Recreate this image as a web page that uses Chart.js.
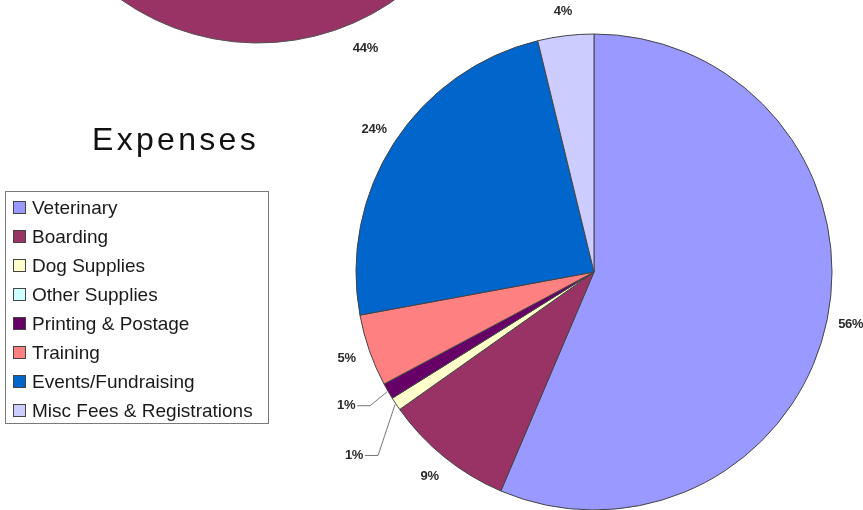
<!DOCTYPE html>
<html lang="en">
<head>
    <meta charset="UTF-8">
    <title>Expenses</title>
    <script src="https://cdn.jsdelivr.net/npm/chart.js"></script>
</head>
<style>
    body {
        margin: 0;
        width: 863px;
        height: 510px;
        overflow: hidden;
        background: #ffffff;
        position: relative;
        font-family: "Liberation Sans", Arial, sans-serif;
    }
    canvas {
        position: absolute;
    }
    .title {
        position: absolute;
        left: 92px;
        top: 123px;
        font-size: 32px;
        line-height: 32px;
        letter-spacing: 3.3px;
        color: #111;
    }
    .legend-box {
        position: absolute;
        left: 5px;
        top: 191px;
        width: 262px;
        height: 230px;
        border: 1px solid #7a7a7a;
        padding-top: 1px;
        box-sizing: content-box;
    }
    .legend-item {
        height: 29px;
        display: flex;
        align-items: center;
        font-size: 19px;
        color: #1a1a1a;
        white-space: nowrap;
    }
    .legend-item span.swatch {
        width: 11px;
        height: 11px;
        border: 1px solid #444;
        margin-left: 7px;
        margin-right: 6px;
        flex: none;
    }
</style>

<body>
    <canvas id="otherChart" width="600" height="600" style="left: -42px; top: -495px;"></canvas>
    <canvas id="expensesChart" width="863" height="510" style="left: 0; top: 0;"></canvas>
    <div class="title">Expenses</div>
    <div class="legend-box" id="legend"></div>

    <script>
        // Expense categories and their share of the total (%)
        const categories = ['Veterinary', 'Boarding', 'Dog Supplies', 'Other Supplies',
            'Printing & Postage', 'Training', 'Events/Fundraising', 'Misc Fees & Registrations'];
        const expenseValues = [56.4, 8.8, 0.9, 0, 1.1, 4.9, 24.1, 3.8];
        const sliceColors = ['#9999ff', '#993366', '#ffffcc', '#ccffff',
            '#660066', '#ff8080', '#0066cc', '#ccccff'];

        // The neighbouring pie, only its bottom slice shows at the top of the picture
        const otherValues = [44, 56];
        const otherColors = ['#993366', '#9999ff'];

        // Percent labels round the pie, small slices get a leader line
        const pieLabels = {
            id: 'pieLabels',
            afterDatasetsDraw(chart, args, opts) {
                const ctx = chart.ctx;
                const data = chart.data.datasets[0].data;
                const total = data.reduce((a, b) => a + b, 0);
                const meta = chart.getDatasetMeta(0);
                let calloutIndex = 0;
                ctx.save();
                ctx.font = 'bold 13px "Liberation Sans", Arial, sans-serif';
                ctx.letterSpacing = '-0.3px';
                ctx.fillStyle = '#2a2a2a';
                ctx.strokeStyle = '#777';
                ctx.lineWidth = 1;
                ctx.textBaseline = 'middle';
                meta.data.forEach((arc, i) => {
                    const v = data[i];
                    if (!v) return;
                    const text = Math.round(v / total * 100) + '%';
                    const p = arc.getProps(['x', 'y', 'startAngle', 'endAngle', 'outerRadius'], true);
                    const mid = (p.startAngle + p.endAngle) / 2;
                    if (v / total < 0.02) {
                        // leader line: out of the slice, down, then left to the text
                        const drop = opts.drops[calloutIndex++] || 20;
                        const ax = p.x + Math.cos(mid) * (p.outerRadius + 1);
                        const ay = p.y + Math.sin(mid) * (p.outerRadius + 1);
                        const ex = ax - 17;
                        const ey = ay + drop;
                        ctx.beginPath();
                        ctx.moveTo(ax, ay);
                        ctx.lineTo(ex, ey);
                        ctx.lineTo(ex - 13, ey);
                        ctx.stroke();
                        ctx.textAlign = 'right';
                        ctx.fillText(text, ex - 15, ey);
                    } else {
                        const r = p.outerRadius + opts.offset;
                        ctx.textAlign = 'center';
                        ctx.fillText(text, p.x + Math.cos(mid) * r, p.y + Math.sin(mid) * r);
                    }
                });
                ctx.restore();
            }
        };

        // Initialize the Expenses Pie Chart
        const expensesCtx = document.getElementById('expensesChart').getContext('2d');
        const expensesChart = new Chart(expensesCtx, {
            type: 'pie',
            data: {
                labels: categories,
                datasets: [{
                    data: expenseValues,
                    backgroundColor: sliceColors,
                    borderColor: '#444',
                    borderWidth: 1
                }]
            },
            options: {
                responsive: false,
                animation: false,
                radius: 238,
                layout: { padding: { left: 325, top: 34, right: 0, bottom: 0 } },
                plugins: {
                    legend: { display: false },
                    tooltip: { enabled: false },
                    pieLabels: { offset: 24, drops: [51, 14] }
                }
            },
            plugins: [pieLabels]
        });

        // Initialize the other (cut off) pie
        const otherCtx = document.getElementById('otherChart').getContext('2d');
        const otherChart = new Chart(otherCtx, {
            type: 'pie',
            data: {
                labels: ['A', 'B'],
                datasets: [{
                    data: otherValues,
                    backgroundColor: otherColors,
                    borderColor: '#555',
                    borderWidth: 1
                }]
            },
            options: {
                responsive: false,
                animation: false,
                radius: 238,
                rotation: 77,
                plugins: {
                    legend: { display: false },
                    tooltip: { enabled: false },
                    pieLabels: { offset: 28, drops: [] }
                }
            },
            plugins: [pieLabels]
        });

        // Build the boxed legend from the same arrays
        const legend = document.getElementById('legend');
        categories.forEach((name, i) => {
            const row = document.createElement('div');
            row.className = 'legend-item';
            const sw = document.createElement('span');
            sw.className = 'swatch';
            sw.style.background = sliceColors[i];
            row.appendChild(sw);
            row.appendChild(document.createTextNode(name));
            legend.appendChild(row);
        });
    </script>
</body>
</html>
